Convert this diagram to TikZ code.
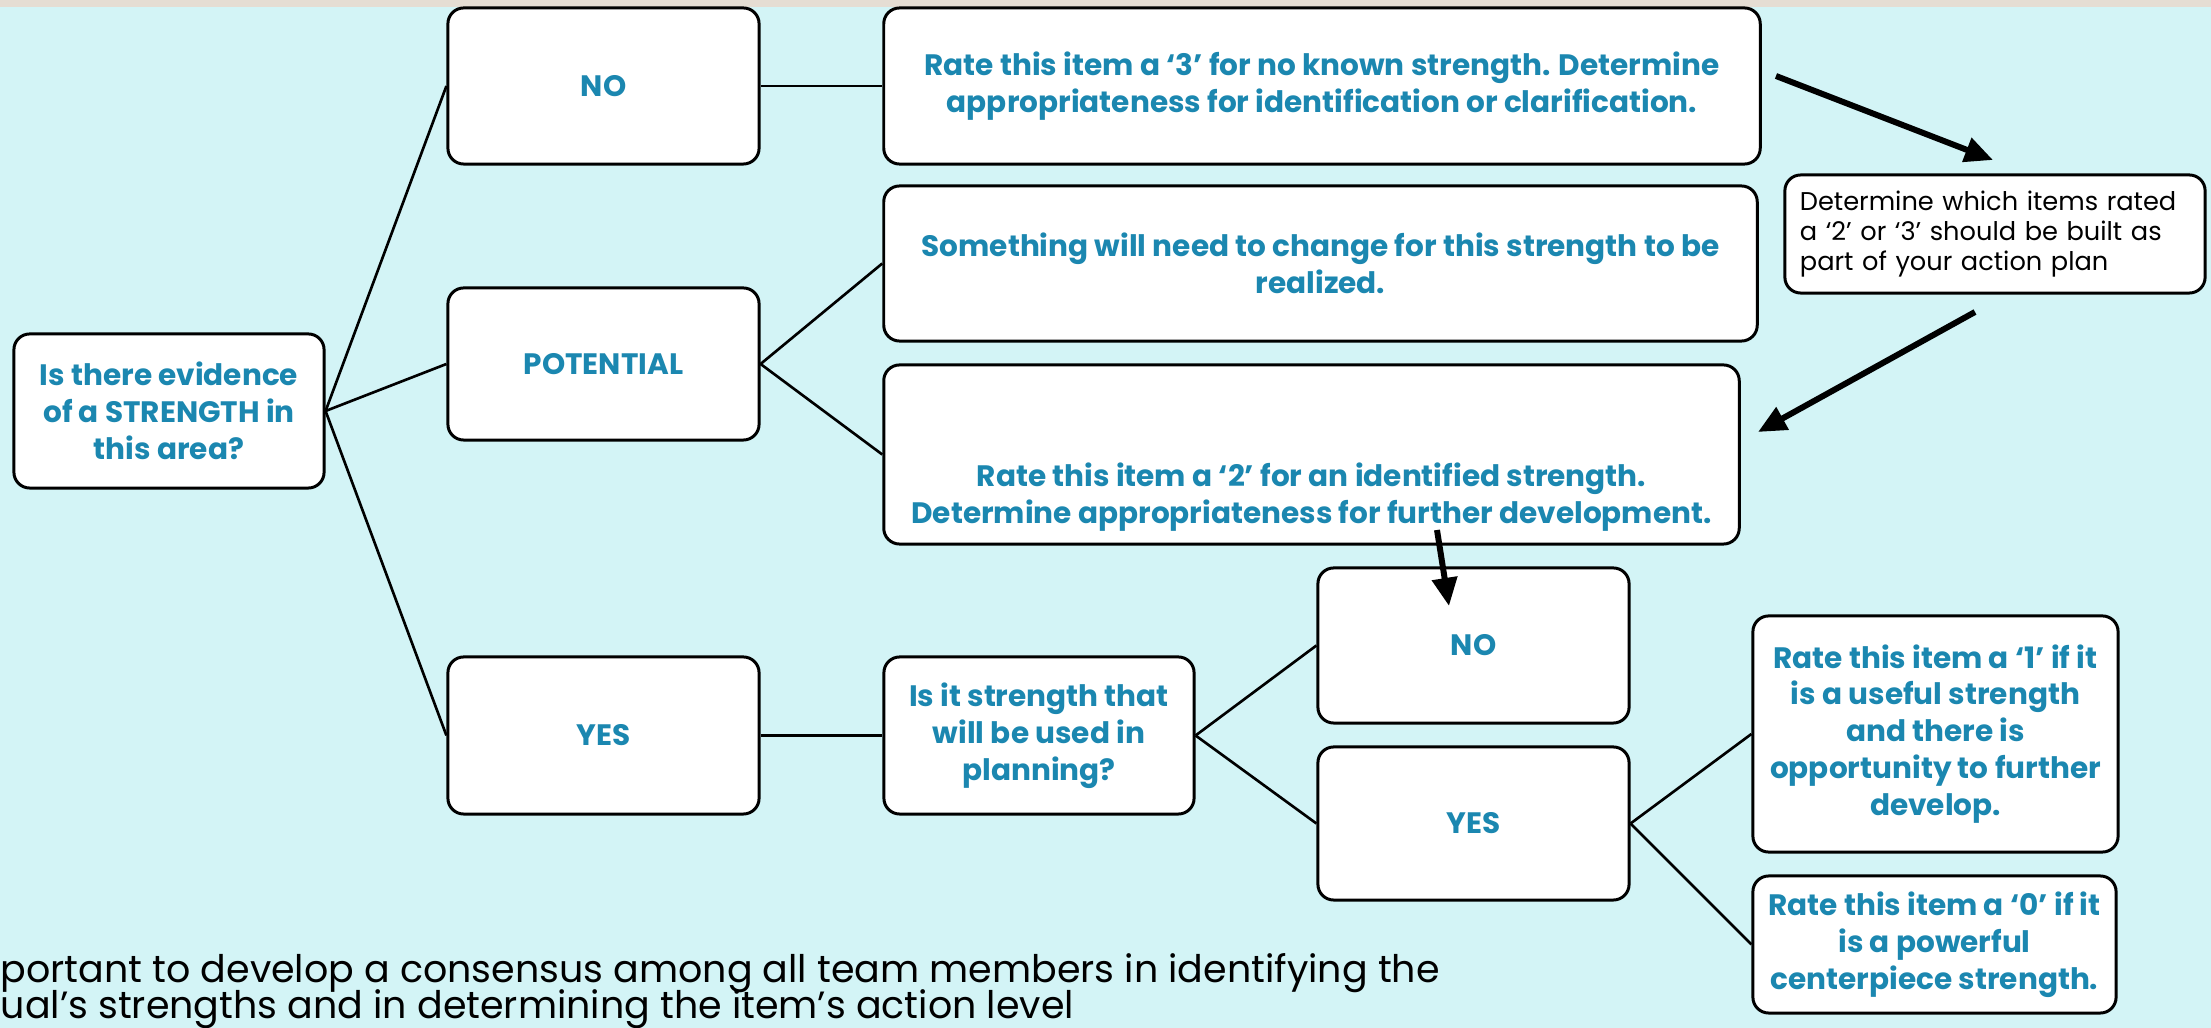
\documentclass[tikz,border=0pt]{standalone}
\usepackage{fontspec}
\setmainfont{Poppins}
\usetikzlibrary{arrows.meta}
\definecolor{skybg}{HTML}{D3F4F6}
\definecolor{topband}{HTML}{E5DDD3}
\definecolor{rateblue}{HTML}{1B87B0}

\begin{document}
\begin{tikzpicture}[x=0.01cm, y=-0.01cm,
  box/.style={draw, line width=0.85pt, rounded corners=4.5pt, fill=white, inner sep=0pt},
  bluetxt/.style={text=rateblue, font=\fontsize{8.4}{10.5}\selectfont\bfseries, align=center},
  link/.style={line width=0.75pt},
  bigarrow/.style={line width=1.7pt, -{Triangle[length=8pt, width=7pt]}}]
  % background and top strip
  \fill[skybg] (0,0) rectangle (2211,1028);
  \fill[topband] (0,0) rectangle (2211,7);
  \useasboundingbox (0,0) rectangle (2211,1028);
  % question on the left
  \node[box, bluetxt, minimum width=3.10cm, minimum height=1.54cm] (q) at (169,411) {Is there evidence\\of a STRENGTH in\\this area?};
  % first level answers
  \node[box, bluetxt, minimum width=3.11cm, minimum height=1.56cm] (no1) at (603.5,86) {NO};
  \node[box, bluetxt, minimum width=3.11cm, minimum height=1.52cm] (pot) at (603.5,364) {POTENTIAL};
  \node[box, bluetxt, minimum width=3.11cm, minimum height=1.57cm] (yes1) at (603.5,735.5) {YES};
  % outcomes of NO and POTENTIAL
  \node[box, bluetxt, minimum width=8.76cm, minimum height=1.56cm] (rate3) at (1322,86) {Rate this item a ‘3’ for no known strength. Determine\\appropriateness for identification or clarification.};
  \node[box, bluetxt, minimum width=8.73cm, minimum height=1.55cm] (change) at (1320.5,263.5) {Something will need to change for this strength to be\\realized.};
  \node[box, minimum width=8.55cm, minimum height=1.79cm] (rate2) at (1311.5,454.5) {};
  \node[bluetxt] (rate2txt) at (1311.5,497) {Rate this item a ‘2’ for an identified strength.\\Determine appropriateness for further development.};
  % action plan note
  \node[box, minimum width=4.20cm, minimum height=1.18cm, text width=3.90cm, align=left, inner xsep=0.15cm,
    font=\fontsize{7.3}{8.6}\selectfont] (plan) at (1995,234) {Determine which items rated\\a ‘2’ or ‘3’ should be built as\\part of your action plan};
  % YES branch
  \node[box, bluetxt, minimum width=3.10cm, minimum height=1.57cm] (used) at (1039,735.5) {Is it strength that\\will be used in\\planning?};
  \node[box, bluetxt, minimum width=3.11cm, minimum height=1.55cm] (no2) at (1473.5,645.5) {NO};
  \node[box, bluetxt, minimum width=3.11cm, minimum height=1.53cm] (yes2) at (1473.5,823.5) {YES};
  \node[box, bluetxt, minimum width=3.65cm, minimum height=2.36cm] (rate1) at (1935.5,734) {Rate this item a ‘1’ if it\\is a useful strength\\and there is\\opportunity to further\\develop.};
  \node[box, bluetxt, minimum width=3.63cm, minimum height=1.37cm] (rate0) at (1934.5,944.5) {Rate this item a ‘0’ if it\\is a powerful\\centerpiece strength.};
  % connectors
  \draw[link] (q.east) -- (no1.west);
  \draw[link] (q.east) -- (pot.west);
  \draw[link] (q.east) -- (yes1.west);
  \draw[link] (no1.east) -- (rate3.west);
  \draw[link] (pot.east) -- (change.west);
  \draw[link] (pot.east) -- (rate2.west);
  \draw[link] (yes1.east) -- (used.west);
  \draw[link] (used.east) -- (no2.west);
  \draw[link] (used.east) -- (yes2.west);
  \draw[link] (yes2.east) -- (rate1.west);
  \draw[link] (yes2.east) -- (rate0.west);
  % thick arrows
  \coordinate (a1s) at (1776,76);
  \coordinate (a1e) at (1993,160);
  \coordinate (a2s) at (1975,312);
  \coordinate (a2e) at (1758,432);
  \coordinate (a3s) at (1437,530);
  \coordinate (a3e) at (1449,606);
  \draw[bigarrow] (a1s) -- (a1e);
  \draw[bigarrow] (a2s) -- (a2e);
  \draw[bigarrow] (a3s) -- (a3e);
  % note at the bottom
  \node[anchor=base west, inner sep=0pt, font=\fontsize{10.8}{13}\selectfont] (note1) at (0,983) {portant to develop a consensus among all team members in identifying the};
  \node[anchor=base west, inner sep=0pt, font=\fontsize{10.8}{13}\selectfont] (note2) at (0,1019) {ual’s strengths and in determining the item’s action level};
\end{tikzpicture}
\end{document}
